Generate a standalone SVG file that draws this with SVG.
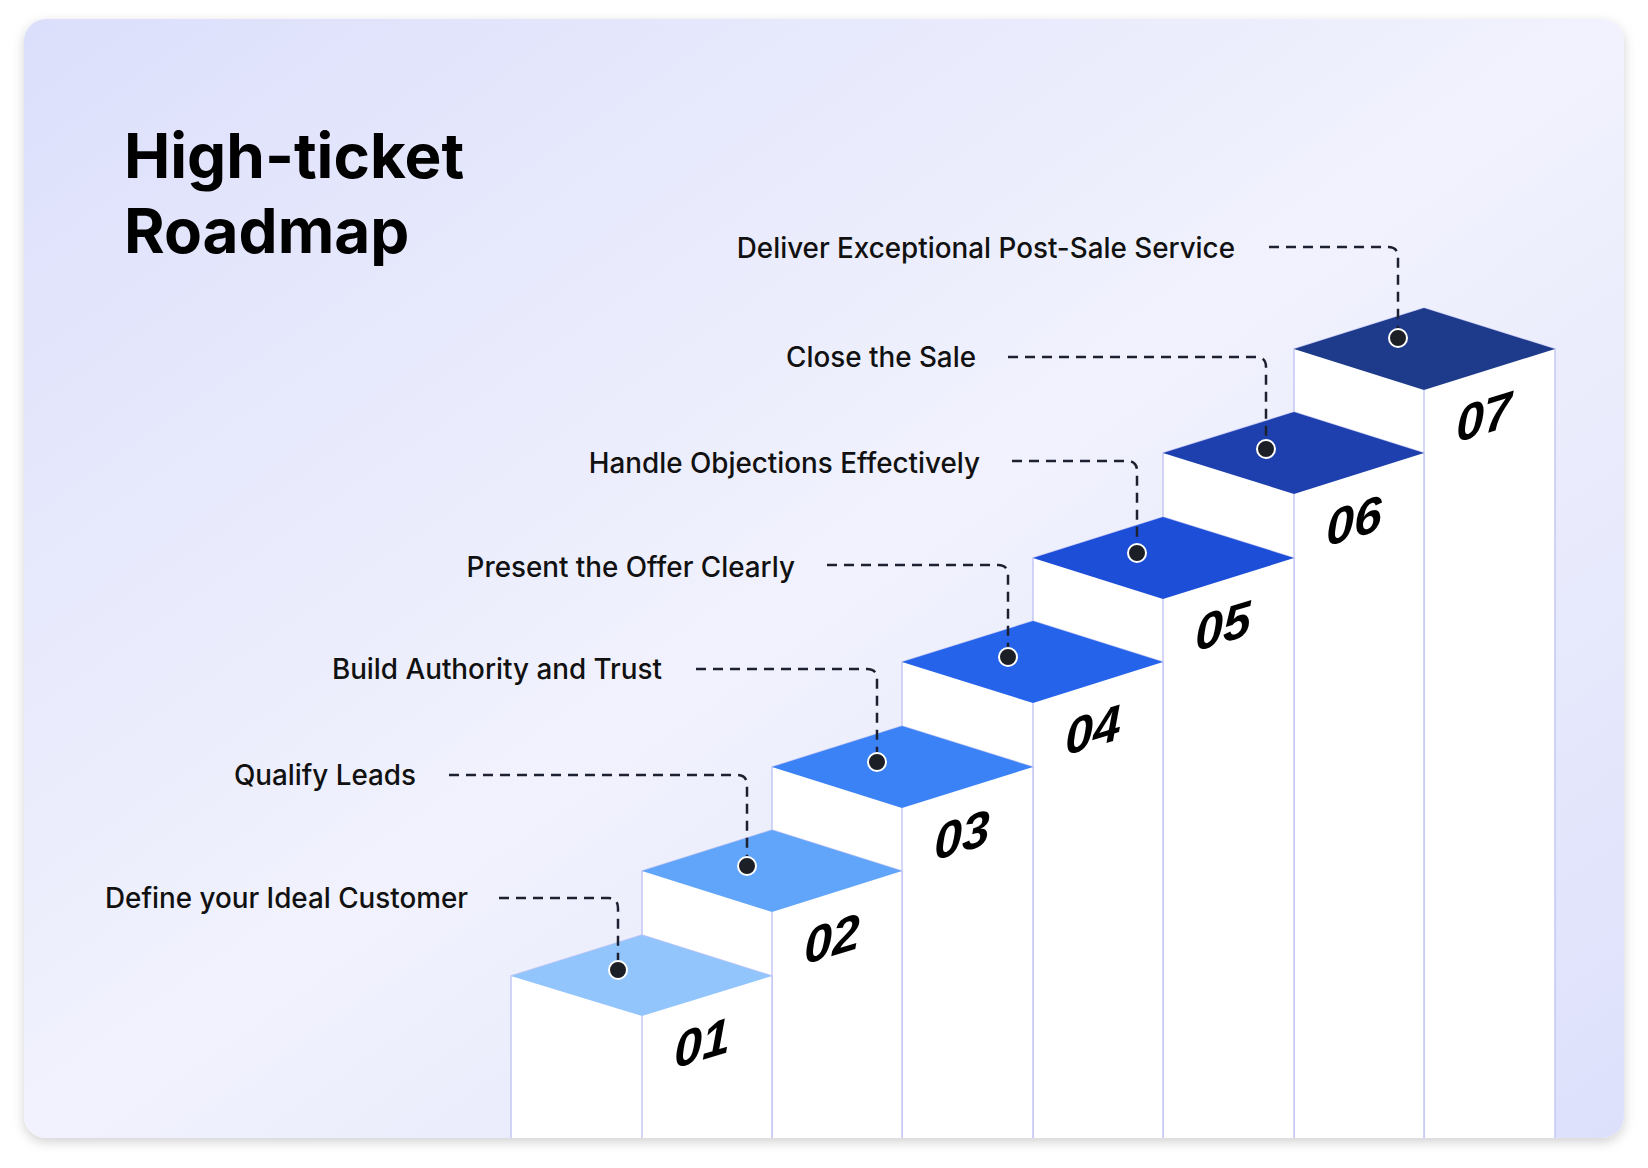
<svg xmlns="http://www.w3.org/2000/svg" width="1648" height="1168" viewBox="0 0 1648 1168">
<defs>
<linearGradient id="bg" x1="0" y1="0" x2="1" y2="1">
<stop offset="0" stop-color="#dcdffb"/>
<stop offset="0.5" stop-color="#f1f2fd"/>
<stop offset="1" stop-color="#dde0fb"/>
</linearGradient>
<filter id="sh" x="-5%" y="-5%" width="110%" height="110%"><feDropShadow dx="0" dy="4" stdDeviation="6" flood-color="#000" flood-opacity="0.18"/></filter>
<clipPath id="card"><rect x="24" y="19" width="1600" height="1119" rx="22"/></clipPath>
</defs>
<style>
.col{fill:#fff;stroke:#c5c8f4;stroke-width:1.5}
.edge{stroke:#c5c8f4;stroke-width:1.5}
.lbl{font-family:Inter,"Liberation Sans",sans-serif;font-size:27.8px;font-weight:500;fill:#111;text-anchor:end}
.num{font-family:"Liberation Sans",Arial,sans-serif;font-size:50px;font-weight:700;font-style:italic;fill:#000;text-anchor:middle}
.dash{fill:none;stroke:#1c2030;stroke-width:2.5;stroke-dasharray:10 7}
.dot{fill:#1c1f26;stroke:#fff;stroke-width:2}
</style>
<rect width="1648" height="1168" fill="#fff"/>
<rect x="24" y="19" width="1600" height="1119" rx="22" fill="url(#bg)" filter="url(#sh)"/>
<g id="title" font-family="Inter,'Liberation Sans',sans-serif" font-weight="700" font-size="62" fill="#000">
<text x="124" y="178">High-ticket</text>
<text x="124" y="253">Roadmap</text>
</g>
<g clip-path="url(#card)">
<g id="step7"><polygon class="col" points="1294,349 1424,308 1555,349 1555,1140 1294,1140"/><polygon points="1294,349 1424,308 1555,349 1424,390" fill="#1E3A8A"/><line class="edge" x1="1424" y1="390" x2="1424" y2="1140"/><text class="num" transform="translate(1484,434) skewY(-17)">07</text></g>
<g id="step6"><polygon class="col" points="1163,453 1294,412 1424,453 1424,1140 1163,1140"/><polygon points="1163,453 1294,412 1424,453 1294,494" fill="#1E40AF"/><line class="edge" x1="1294" y1="494" x2="1294" y2="1140"/><text class="num" transform="translate(1354,538) skewY(-17)">06</text></g>
<g id="step5"><polygon class="col" points="1033,558 1163,517 1294,558 1294,1140 1033,1140"/><polygon points="1033,558 1163,517 1294,558 1163,599" fill="#1D4ED8"/><line class="edge" x1="1163" y1="599" x2="1163" y2="1140"/><text class="num" transform="translate(1223,643) skewY(-17)">05</text></g>
<g id="step4"><polygon class="col" points="902,662 1033,621 1163,662 1163,1140 902,1140"/><polygon points="902,662 1033,621 1163,662 1033,703" fill="#2563EB"/><line class="edge" x1="1033" y1="703" x2="1033" y2="1140"/><text class="num" transform="translate(1093,747) skewY(-17)">04</text></g>
<g id="step3"><polygon class="col" points="772,767 902,726 1033,767 1033,1140 772,1140"/><polygon points="772,767 902,726 1033,767 902,808" fill="#3B82F6"/><line class="edge" x1="902" y1="808" x2="902" y2="1140"/><text class="num" transform="translate(962,852) skewY(-17)">03</text></g>
<g id="step2"><polygon class="col" points="642,871 772,830 902,871 902,1140 642,1140"/><polygon points="642,871 772,830 902,871 772,912" fill="#60A5FA"/><line class="edge" x1="772" y1="912" x2="772" y2="1140"/><text class="num" transform="translate(832,956) skewY(-17)">02</text></g>
<g id="step1"><polygon class="col" points="511,976 642,935 772,976 772,1140 511,1140"/><polygon points="511,976 642,935 772,976 642,1016" fill="#93C5FD"/><line class="edge" x1="642" y1="1016" x2="642" y2="1140"/><text class="num" transform="translate(702,1060) skewY(-17)">01</text></g>
</g>
<g id="connectors">
<path class="dash" d="M499,898 H608 Q618,898 618,908 V970"/>
<path class="dash" d="M449,775 H737 Q747,775 747,785 V866"/>
<path class="dash" d="M696,669 H867 Q877,669 877,679 V762"/>
<path class="dash" d="M827,565 H998 Q1008,565 1008,575 V657"/>
<path class="dash" d="M1012,461 H1127 Q1137,461 1137,471 V553"/>
<path class="dash" d="M1008,357 H1256 Q1266,357 1266,367 V449"/>
<path class="dash" d="M1269,247 H1388 Q1398,247 1398,257 V338"/>
<circle class="dot" cx="618" cy="970" r="9"/>
<circle class="dot" cx="747" cy="866" r="9"/>
<circle class="dot" cx="877" cy="762" r="9"/>
<circle class="dot" cx="1008" cy="657" r="9"/>
<circle class="dot" cx="1137" cy="553" r="9"/>
<circle class="dot" cx="1266" cy="449" r="9"/>
<circle class="dot" cx="1398" cy="338" r="9"/>
</g>
<g id="labels">
<text class="lbl" x="468" y="908">Define your Ideal Customer</text>
<text class="lbl" x="416" y="785">Qualify Leads</text>
<text class="lbl" x="662" y="679">Build Authority and Trust</text>
<text class="lbl" x="795" y="577">Present the Offer Clearly</text>
<text class="lbl" x="980" y="473">Handle Objections Effectively</text>
<text class="lbl" x="976" y="367">Close the Sale</text>
<text class="lbl" x="1235" y="258">Deliver Exceptional Post-Sale Service</text>
</g>
</svg>
